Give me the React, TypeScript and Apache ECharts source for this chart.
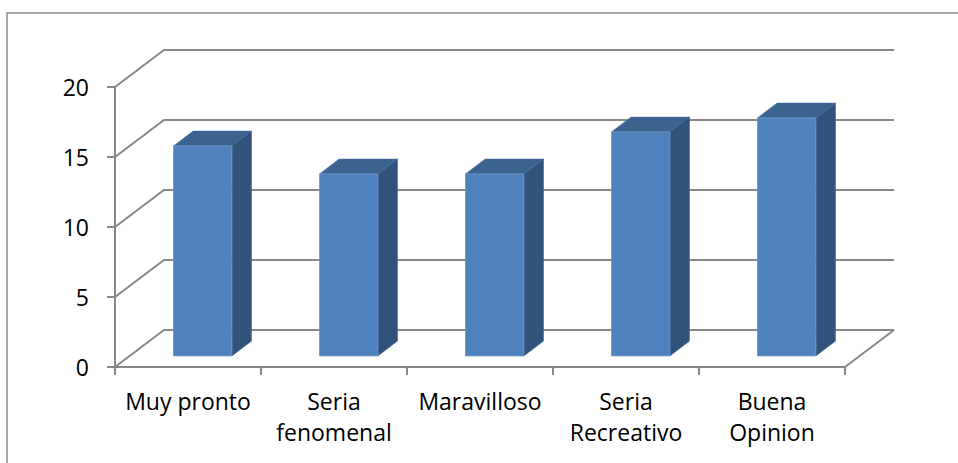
import React, { useEffect, useRef } from "react";
import * as echarts from "echarts";

const categories = ["Muy pronto", "Seria\nfenomenal", "Maravilloso", "Seria\nRecreativo", "Buena\nOpinion"];
const values = [15, 13, 13, 16, 17];
const yTicks = [0, 5, 10, 15, 20];

const DEPTH_X = 49;
const DEPTH_Y = 37;
const BAR_FRONT = 0.3;
const BAR_BACK = 0.7;
const BAR_HALF = 0.2;

const GRID_COLOR = "#878787";
const FRONT_COLOR = "#4F81BD";
const TOP_COLOR = "#3C6390";
const SIDE_COLOR = "#31527A";
const FONT = "'Open Sans', sans-serif";

function wallRender(params: any, api: any) {
  const v = api.value(1);
  const left = api.coord([0, v]);
  const right = api.coord([categories.length - 1, v]);
  const bw = api.size([1, 0])[0];
  const x0 = left[0] - bw / 2;
  const x1 = right[0] + bw / 2;
  const y = left[1];
  const children: any[] = [
    {
      type: "polyline",
      shape: { points: [[x0, y], [x0 + DEPTH_X, y - DEPTH_Y], [x1 + DEPTH_X, y - DEPTH_Y]] },
      style: { stroke: GRID_COLOR, lineWidth: 2, fill: "none" },
    },
  ];
  if (v === 0) {
    children.push({
      type: "line",
      shape: { x1: x1, y1: y, x2: x1 + DEPTH_X, y2: y - DEPTH_Y },
      style: { stroke: GRID_COLOR, lineWidth: 2 },
    });
  }
  return { type: "group", children };
}

function barRender(params: any, api: any) {
  const i = api.value(0);
  const v = api.value(1);
  const c0 = api.coord([i, 0]);
  const c1 = api.coord([i, v]);
  const bw = api.size([1, 0])[0];
  const xl = c0[0] - BAR_HALF * bw;
  const xr = c0[0] + BAR_HALF * bw;
  const fx = BAR_FRONT * DEPTH_X;
  const fy = BAR_FRONT * DEPTH_Y;
  const bx = BAR_BACK * DEPTH_X;
  const by = BAR_BACK * DEPTH_Y;
  return {
    type: "group",
    children: [
      {
        type: "polygon",
        shape: {
          points: [
            [xl + fx, c1[1] - fy],
            [xr + fx, c1[1] - fy],
            [xr + bx, c1[1] - by],
            [xl + bx, c1[1] - by],
          ],
        },
        style: { fill: TOP_COLOR, stroke: "#4a72a3", lineWidth: 0.6 },
      },
      {
        type: "polygon",
        shape: {
          points: [
            [xr + fx, c0[1] - fy],
            [xr + fx, c1[1] - fy],
            [xr + bx, c1[1] - by],
            [xr + bx, c0[1] - by],
          ],
        },
        style: { fill: SIDE_COLOR, stroke: "#44688f", lineWidth: 0.6 },
      },
      {
        type: "rect",
        shape: { x: xl + fx, y: c1[1] - fy, width: xr - xl, height: c0[1] - c1[1] },
        style: { fill: FRONT_COLOR, stroke: "#6d97cb", lineWidth: 0.8 },
      },
    ],
  };
}

export default function App() {
  const ref = useRef<HTMLDivElement>(null);
  useEffect(() => {
    const chart = echarts.init(ref.current!, null, { renderer: "svg" });
    chart.setOption({
      animation: false,
      backgroundColor: "#ffffff",
      graphic: [
        {
          type: "rect",
          shape: { x: 7, y: 13, width: 1200, height: 800 },
          style: { fill: "none", stroke: "#8c8c8c", lineWidth: 1.5 },
          z: -1,
          silent: true,
        },
      ],
      grid: { left: 115, top: 87, width: 730, height: 280 },
      xAxis: {
        type: "category",
        data: categories,
        axisLine: { lineStyle: { color: GRID_COLOR, width: 2 } },
        axisTick: { show: true, length: 8, lineStyle: { color: GRID_COLOR, width: 2 } },
        axisLabel: {
          interval: 0,
          margin: 18,
          color: "#000000",
          fontFamily: FONT,
          fontSize: 23,
          lineHeight: 31,
        },
      },
      yAxis: {
        type: "value",
        min: 0,
        max: 20,
        interval: 5,
        axisLine: { show: true, lineStyle: { color: GRID_COLOR, width: 2 } },
        axisTick: { show: true, length: 8, lineStyle: { color: GRID_COLOR, width: 2 } },
        axisLabel: { margin: 26, color: "#000000", fontFamily: FONT, fontSize: 23 },
        splitLine: { show: false },
      },
      series: [
        {
          type: "custom",
          data: yTicks.map((v) => [0, v]),
          renderItem: wallRender,
          z: 1,
          silent: true,
        },
        {
          type: "custom",
          data: values.map((v, i) => [i, v]),
          renderItem: barRender,
          z: 2,
        },
      ],
    });
    return () => chart.dispose();
  }, []);
  return (
    <div
      ref={ref}
      style={{ position: "fixed", left: 0, top: 0, width: 958, height: 463 }}
    />
  );
}
